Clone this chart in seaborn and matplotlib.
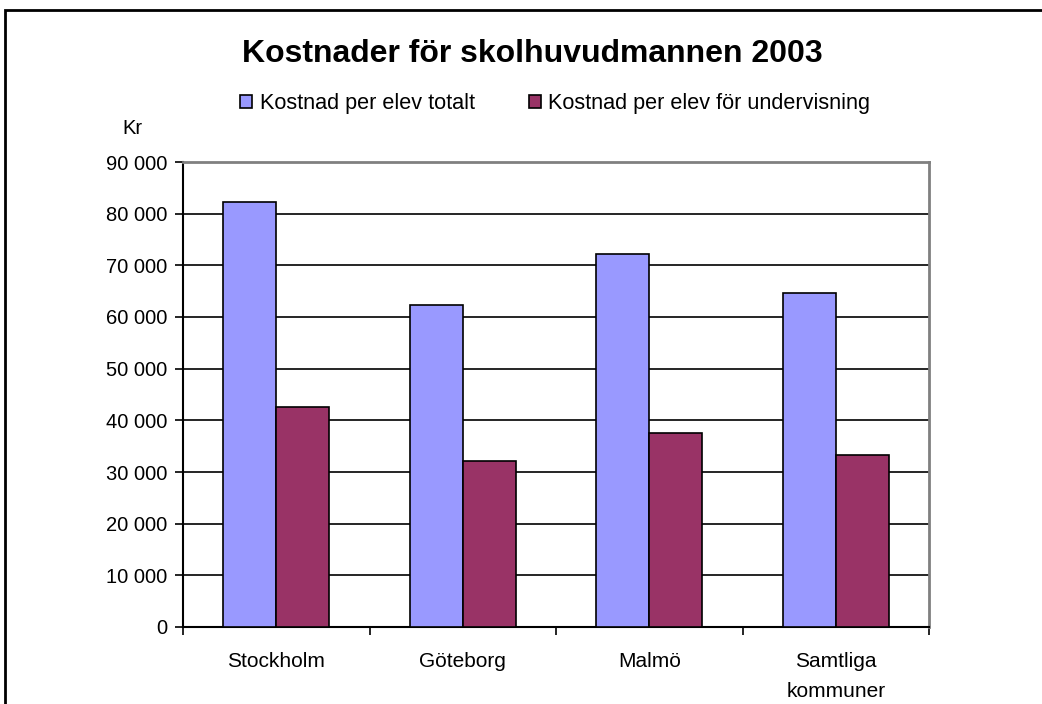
import matplotlib
matplotlib.use("Agg")
import matplotlib.pyplot as plt
import seaborn as sns
import pandas as pd
from matplotlib.patches import Rectangle
from matplotlib.ticker import FuncFormatter

categories = ["Stockholm", "Göteborg", "Malmö", "Samtliga\nkommuner"]
series_names = ["Kostnad per elev totalt", "Kostnad per elev för undervisning"]
totalt = [82200, 62400, 72100, 64700]
undervisning = [42600, 32100, 37600, 33300]
yticks = list(range(0, 90001, 10000))

df = pd.DataFrame({
    "kat": categories * 2,
    "serie": [series_names[0]] * 4 + [series_names[1]] * 4,
    "varde": totalt + undervisning,
})

sns.set_style("white")
plt.rcParams["font.family"] = ["Liberation Sans", "DejaVu Sans"]
plt.rcParams["text.color"] = "black"
plt.rcParams["xtick.color"] = "black"
plt.rcParams["ytick.color"] = "black"

fig = plt.figure(figsize=(10.42, 7.04), dpi=100)
ax = fig.add_axes([183 / 1042, 1 - 627 / 704, (929 - 183) / 1042, (627 - 162) / 704])

sns.barplot(data=df, x="kat", y="varde", hue="serie", order=categories,
            hue_order=series_names, palette=["#9999FF", "#993366"],
            width=0.57, edgecolor="black", linewidth=1.2, saturation=1,
            ax=ax, legend=True, zorder=3)

ax.set_xlim(-0.5, 3.5)
ax.set_ylim(0, 90000)
ax.set_yticks(yticks)
ax.yaxis.set_major_formatter(FuncFormatter(lambda v, p: f"{int(v):,}".replace(",", " ")))
for y in yticks[1:-1]:
    ax.axhline(y, color="black", linewidth=1.2, zorder=1)

ax.set_xticks([-0.5, 0.5, 1.5, 2.5, 3.5])
ax.set_xticklabels([])
ax.set_xticks([0, 1, 2, 3], minor=True)
ax.set_xticklabels(categories, minor=True, fontsize=15, linespacing=1.75)
ax.tick_params(axis="x", which="minor", length=0, pad=18)
ax.tick_params(axis="x", which="major", direction="out", length=6, width=1.2, color="black", bottom=True)
ax.tick_params(axis="y", direction="out", length=6, width=1.2, color="black", labelsize=14.5, left=True, pad=5)
ax.set_xlabel("")
ax.set_ylabel("")

for s in ["left", "bottom"]:
    ax.spines[s].set_color("black")
    ax.spines[s].set_linewidth(1.5)
for s in ["top", "right"]:
    ax.spines[s].set_color("#808080")
    ax.spines[s].set_linewidth(2)
    ax.spines[s].set_visible(True)

handles, labels = ax.get_legend_handles_labels()
ax.get_legend().remove()
leg = fig.legend(handles, labels, loc="center left", bbox_to_anchor=(240 / 1042, 1 - 104 / 704),
                 ncol=2, frameon=False, fontsize=15.6, handlelength=0.55, handleheight=0.55,
                 handletextpad=0.35, columnspacing=2.5, borderaxespad=0, borderpad=0)

fig.text(532 / 1042, 1 - 54 / 704, "Kostnader för skolhuvudmannen 2003",
         ha="center", va="center", fontsize=23, fontweight="bold")
fig.text(122 / 1042, 1 - 129 / 704, "Kr", ha="left", va="center", fontsize=14.5)

fig.patches.append(Rectangle((5 / 1042, -0.05), 1.1, 1.05 - 10 / 704, transform=fig.transFigure,
                             fill=False, edgecolor="black", linewidth=2, zorder=10))

fig.savefig("out.png", dpi=100)
